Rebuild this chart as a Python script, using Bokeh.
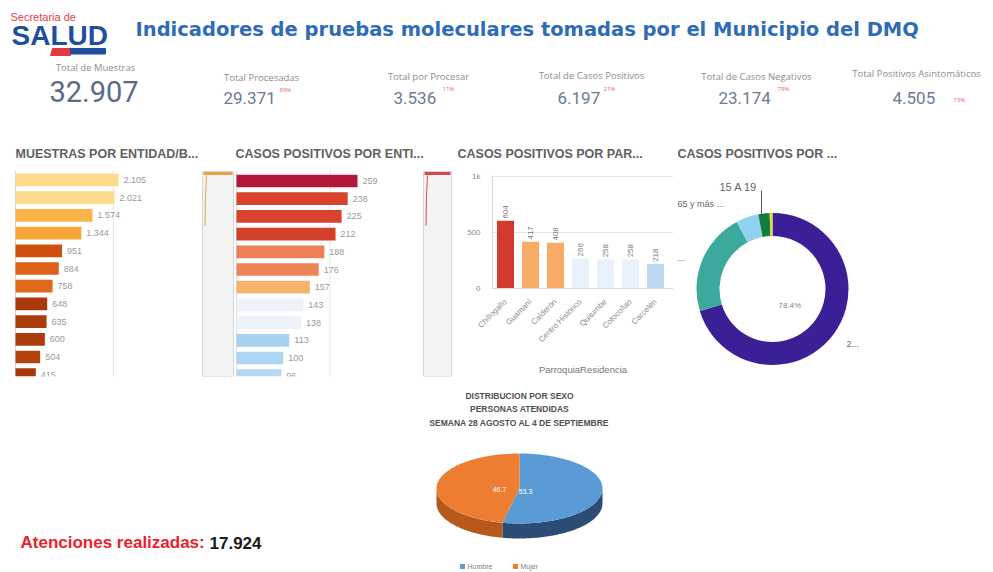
import numpy as np
from bokeh.plotting import figure
from bokeh.layouts import column, row
from bokeh.models import Range1d, FixedTicker
from bokeh.core.properties import value
from bokeh.embed import file_html
from bokeh.resources import INLINE

# ---------------- data ----------------
page_title = "Indicadores de pruebas moleculares tomadas por el Municipio del DMQ"
kpi_labels = ["Total de Muestras", "Total Procesadas", "Total por Procesar",
              "Total de Casos Positivos", "Total de Casos Negativos",
              "Total Positivos Asintomáticos"]
kpi_values = ["32.907", "29.371", "3.536", "6.197", "23.174", "4.505"]
kpi_pcts = ["", "89%", "11%", "21%", "79%", "73%"]

chart_titles = ["MUESTRAS POR ENTIDAD/B...", "CASOS POSITIVOS POR ENTI...",
                "CASOS POSITIVOS POR PAR...", "CASOS POSITIVOS POR ..."]

muestras_entidad = [2105, 2021, 1574, 1344, 951, 884, 758, 648, 635, 600, 504, 415]
positivos_entidad = [259, 238, 225, 212, 188, 176, 157, 143, 138, 113, 100, 96]

parroquias = ["Chillogallo", "Guamaní", "Calderón", "Centro Histórico",
              "Quitumbe", "Cotocollao", "Carcelén"]
positivos_parroquia = [604, 417, 408, 266, 258, 258, 218]
parroquia_axis_label = "ParroquiaResidencia"

grupos_edad = ["2...", "...", "65 y más ...", "15 A 19", ""]
positivos_edad_pct = [70.3, 21.9, 4.8, 2.4, 0.6]
donut_center_label = "78.4%"

pie_title = ["DISTRIBUCION POR SEXO", "PERSONAS ATENDIDAS",
             "SEMANA 28 AGOSTO AL 4 DE SEPTIEMBRE"]
sexo = ["Hombre", "Mujer"]
sexo_pct = [53.3, 46.7]
atenciones_label = "Atenciones realizadas:"
atenciones_realizadas = "17.924"

# ---------------- styles ----------------
SANS = "Liberation Sans"
c1_colors = ["#fdd98c", "#fdd98c", "#fbb447", "#f8a536", "#d0510e", "#dd6217",
             "#e1691b", "#a93a0b", "#ab3c0c", "#ad3d0d", "#b4440f", "#a53709"]
c2_colors = ["#b3183c", "#d8432f", "#d8432f", "#d4402c", "#ec7f55", "#ed8457",
             "#f5b36c", "#eef3fb", "#eef3fb", "#a6d2f1", "#aed6f2", "#b4d9f3"]
c3_colors = ["#d13b2e", "#f7ab64", "#f7ab64", "#e9f1fb", "#e9f1fb", "#e9f1fb", "#b9d8f0"]
donut_colors = ["#3b1f97", "#3ba99c", "#8fd1ee", "#137c3f", "#e6d83a"]
pie_top = ["#5b9bd5", "#ed7d31"]
pie_side = ["#2b4c74", "#b8591c"]


def fmt(v):
    return f"{v:,}".replace(",", ".")


def canvas(w, h, xr, yr, mb=0):
    p = figure(width=w, height=h, x_range=xr, y_range=yr, output_backend="svg",
               toolbar_location=None, x_axis_location=None, y_axis_location=None,
               min_border_left=0, min_border_right=0, min_border_top=0,
               min_border_bottom=mb, frame_align=False)
    p.xgrid.visible = False
    p.ygrid.visible = False
    p.outline_line_color = None
    p.background_fill_color = "white"
    p.border_fill_color = "white"
    return p


def txt(p, x, y, s, size, color, font=SANS, style="normal", align="left",
        baseline="middle", angle=0.0):
    seqs = [v for v in (x, y, s) if isinstance(v, (list, tuple, np.ndarray))]
    n = len(seqs[0]) if seqs else 1

    def L(v):
        return list(v) if isinstance(v, (list, tuple, np.ndarray)) else [v] * n
    p.text(x=L(x), y=L(y), text=L(s), text_font=value(font), text_font_size=value(size),
           text_color=color, text_font_style=style, text_align=align,
           text_baseline=baseline, angle=angle)


# ---------------- header ----------------
hdr = canvas(993, 140, Range1d(0, 993), Range1d(140, 0))
txt(hdr, 10, 16.5, "Secretaria de", "11px", "#e23b3f")
txt(hdr, 11, 35, "SALUD", "28px", "#1d4f9e", style="bold")
hdr.patch(x=[52, 72, 70, 50], y=[48, 48, 55, 55], color="#e23b3f")
hdr.quad(left=[70], right=[105], top=[48], bottom=[53.5], color="#1d4f9e")
txt(hdr, 135, 29, page_title, "19.5px", "#2e6cb5", font="DejaVu Sans", style="bold")

kpi_cx = [95, 261, 428, 591, 756, 916]
kpi_ly = [67, 77, 76, 75, 76, 73]
kpi_vx = [49, 223, 393, 557, 718, 892]
kpi_vy = [91, 97, 97, 97, 97, 97]
kpi_sx = [0, 279, 442, 603, 777, 953]
kpi_sy = [0, 89, 88, 88, 88, 99]
txt(hdr, kpi_cx, kpi_ly, kpi_labels, "9.5px", "#8c8c8c", font="Open Sans", align="center")
txt(hdr, kpi_vx[0], kpi_vy[0], kpi_values[0], "29px", "#5a6b82", font="Roboto")
txt(hdr, kpi_vx[1:], kpi_vy[1:], kpi_values[1:], "17px", "#6b7b92", font="Roboto")
txt(hdr, kpi_sx[1:], kpi_sy[1:], kpi_pcts[1:], "6px", "#e46a6a", font="Open Sans")

# ---------------- chart titles strip ----------------
tst = canvas(993, 30, Range1d(0, 993), Range1d(170, 140))
txt(tst, [15, 235, 457, 677], 153, chart_titles, "12.5px", "#5f5f5f", style="bold")


# ---------------- horizontal bar panels ----------------
def hbar_panel(vals, colors, px0, px1, x0p, pxu, y0p, grid_val, mini, mini_col):
    fb, top, step = 376, 170, 17.7

    def X(P):
        return (P - x0p) / pxu

    def Y(P):
        return (P - y0p) / step
    p = canvas(px1 - px0, 215, Range1d(X(px0), X(px1)), Range1d(Y(fb), Y(top)), mb=385 - fb)
    idx = np.arange(len(vals))
    p.segment(x0=[0], y0=[Y(170)], x1=[0], y1=[Y(fb)], line_color="#d9d9d9", line_width=1)
    p.segment(x0=[grid_val], y0=[Y(170)], x1=[grid_val], y1=[Y(fb)],
              line_color="#e4e4e4", line_width=1)
    p.hbar(y=idx, left=0, right=vals, height=0.72, fill_color=colors, line_color=None)
    txt(p, list(np.array(vals) + 5 / pxu), list(idx), [fmt(v) for v in vals],
        "9px", "#9a9a9a")
    # scroll preview panel
    mx0, mx1 = mini
    p.quad(left=[X(mx0)], right=[X(mx1)], top=[Y(171)], bottom=[Y(fb)],
           fill_color="#f3f3f3", line_color="#d4d4d4")
    p.quad(left=[X(mx0 + 1)], right=[X(mx1 - 1)], top=[Y(171.5)], bottom=[Y(174.5)],
           fill_color=mini_col, line_color=None)
    p.line(x=[X(mx0 + 4), X(mx0 + 3), X(mx0 + 2.5)], y=[Y(175), Y(195), Y(225)],
           line_color=mini_col, line_width=1)
    return p


c1 = hbar_panel(muestras_entidad, c1_colors, 0, 234, 15, 103 / 2105, 179.5, 2000,
                (202, 233), "#e8a04a")
c2 = hbar_panel(positivos_entidad, c2_colors, 234, 452, 236, 121 / 259, 180.5, 200,
                (423, 451), "#d94a4a")

# ---------------- vertical bar chart ----------------
c3 = figure(width=221, height=215, x_range=Range1d(-0.52, 6.72), y_range=Range1d(0, 1009),
            output_backend="svg", toolbar_location=None, frame_align=False,
            min_border_left=40, min_border_right=0, min_border_top=5, min_border_bottom=97)
c3.outline_line_color = None
c3.xgrid.visible = False
c3.ygrid.ticker = FixedTicker(ticks=[500, 1000])
c3.ygrid.grid_line_color = "#e4e4e4"
c3.yaxis.ticker = FixedTicker(ticks=[0, 500, 1000])
c3.yaxis.major_label_overrides = {0: "0", 500: "500", 1000: "1k"}
c3.xaxis.ticker = FixedTicker(ticks=list(range(len(parroquias))))
c3.xaxis.major_label_overrides = {i: n for i, n in enumerate(parroquias)}
c3.xaxis.major_label_orientation = np.pi / 4
c3.xaxis.axis_label = parroquia_axis_label
c3.xaxis.axis_label_standoff = 14
c3.xaxis.axis_label_text_font = SANS
c3.xaxis.axis_label_text_font_style = "normal"
c3.xaxis.axis_label_text_font_size = "9.5px"
c3.xaxis.axis_label_text_color = "#777777"
for ax in (c3.xaxis, c3.yaxis):
    ax.axis_line_color = "#d9d9d9"
    ax.major_tick_line_color = None
    ax.minor_tick_line_color = None
    ax.major_label_text_font = SANS
    ax.major_label_text_font_size = "8px"
    ax.major_label_text_color = "#8a8a8a"
    ax.major_label_standoff = 6
idx3 = np.arange(len(parroquias))
c3.vbar(x=idx3, top=positivos_parroquia, width=0.68, fill_color=c3_colors, line_color=None)
txt(c3, list(idx3), list(np.array(positivos_parroquia) + 20),
    [fmt(v) for v in positivos_parroquia], "8px", "#7a7a7a", angle=np.pi / 2)

# ---------------- donut ----------------
c4 = canvas(320, 215, Range1d(673, 993), Range1d(385, 170))
fr = np.array(positivos_edad_pct) / sum(positivos_edad_pct)
cum = np.concatenate([[0.0], np.cumsum(fr)])
c4.annular_wedge(x=772, y=288.5, inner_radius=53, outer_radius=76,
                 inner_radius_units="screen", outer_radius_units="screen",
                 start_angle=list(np.pi / 2 - cum[:-1] * 2 * np.pi),
                 end_angle=list(np.pi / 2 - cum[1:] * 2 * np.pi),
                 direction="clock", fill_color=donut_colors, line_color=None)
txt(c4, 719, 186, grupos_edad[3], "11px", "#666666")
c4.segment(x0=[761], y0=[190], x1=[761], y1=[215], line_color="#555555", line_width=1)
txt(c4, 677, 203, grupos_edad[2], "9px", "#666666")
txt(c4, 677, 257, grupos_edad[1], "9px", "#666666")
txt(c4, 846, 343, grupos_edad[0], "9px", "#666666")
txt(c4, 778, 305, donut_center_label, "8px", "#888888")

# ---------------- bottom: 3D pie ----------------
bt = canvas(993, 187, Range1d(0, 993), Range1d(572, 385))
txt(bt, 519, [395, 408, 422], pie_title, "8.5px", "#505050", style="bold", align="center")
cx, cy, rx, ry, depth = 519, 488, 83, 35, 15
pf = np.array(sexo_pct) / sum(sexo_pct)
edges = np.concatenate([[0.0], np.cumsum(pf)]) * 2 * np.pi
side_xs, side_ys, side_c, top_xs, top_ys = [], [], [], [], []
for k in range(len(sexo)):
    a0, a1 = edges[k], edges[k + 1]
    s0, s1 = max(a0, np.pi / 2), min(a1, 3 * np.pi / 2)
    if s1 > s0:
        t = np.linspace(s0, s1, 80)
        ex = cx + rx * np.sin(t)
        ey = cy - ry * np.cos(t)
        side_xs.append(list(ex) + list(ex[::-1]))
        side_ys.append(list(ey) + list((ey + depth)[::-1]))
        side_c.append(pie_side[k])
    t = np.linspace(a0, a1, 120)
    top_xs.append([cx] + list(cx + rx * np.sin(t)))
    top_ys.append([cy] + list(cy - ry * np.cos(t)))
bt.patches(xs=side_xs, ys=side_ys, fill_color=side_c, line_color=None)
bt.patches(xs=top_xs, ys=top_ys, fill_color=pie_top, line_color=None)
txt(bt, [525, 499], [491, 489], [f"{v}" for v in sexo_pct], "7px", "#ffffff",
    align="center")
bt.scatter(x=[462, 515], y=[566, 566], marker="square", size=4, color=pie_top)
txt(bt, [467, 520], 566, sexo, "7px", "#7f7f7f")
txt(bt, 20, 542, atenciones_label, "17px", "#e8212b", style="bold")
txt(bt, 209, 542, atenciones_realizadas, "17px", "#1a1a1a", style="bold")

layout = column(hdr, tst, row(c1, c2, c3, c4), bt)
open("out.html", "w").write(file_html(layout, INLINE, title="Dashboard"))
